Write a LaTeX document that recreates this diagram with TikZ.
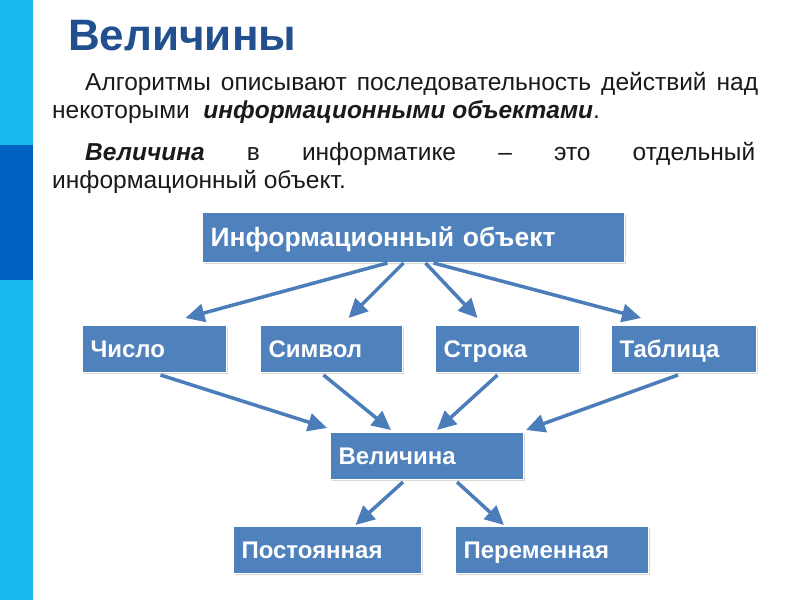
\documentclass[tikz,border=0pt]{standalone}
\usepackage{fontspec}
\setmainfont{Liberation Sans}
\usetikzlibrary{arrows.meta,shadows}
\definecolor{barlight}{HTML}{17B8EC}
\definecolor{bardark}{HTML}{0063C1}
\definecolor{titleblue}{HTML}{22508E}
\definecolor{boxblue}{HTML}{4F81BD}
\definecolor{arrowblue}{HTML}{4A7DBA}
\definecolor{textgray}{HTML}{1A1A1A}
\tikzset{
	box/.style={fill=boxblue,draw=white,line width=1pt,
		drop shadow={shadow xshift=1.5pt,shadow yshift=-1.5pt,opacity=0.3},
		text=white,font=\bfseries\fontsize{24}{26}\selectfont,
		text height=18pt,text depth=2pt,
		inner xsep=8pt,inner ysep=0pt,align=left,anchor=north west},
	line/.style={anchor=base west,inner sep=0pt,text=textgray,font=\fontsize{24.5}{28}\selectfont},
	link/.style={arrowblue,line width=3.5pt,-{Triangle[length=19pt,width=18pt]}}
}
\begin{document}
\begin{tikzpicture}[x=1pt,y=-1pt]
	\useasboundingbox (0,0) rectangle (800,600);
	\fill[white] (0,0) rectangle (800,600);
	\fill[barlight] (0,0) rectangle (33,600);
	\fill[bardark] (0,145) rectangle (33,280);
	\node[anchor=base west,inner sep=0pt,text=titleblue,font=\bfseries\fontsize{44}{48}\selectfont] (title) at (68,50) {Величины};
	\node[line] (algoA) at (85,90) {\makebox[673pt][s]{Алгоритмы описывают последовательность действий над}};
	\node[line] (algoB) at (52,118) {некоторыми \ \textbf{\textit{информационными объектами}}.};
	\node[line] (defA) at (85,160) {\makebox[670pt][s]{\textbf{\textit{Величина}} в информатике – это отдельный}};
	\node[line] (defB) at (52,188) {информационный объект.};
	\node[box,text width=406pt,minimum height=50pt,text height=20pt,font=\bfseries\fontsize{26.5}{28}\selectfont] (info) at (202,212) {Информационный объект};
	\node[box,text width=128pt,minimum height=47pt] (chislo) at (82,325) {Число};
	\node[box,text width=126pt,minimum height=47pt] (simvol) at (260,325) {Символ};
	\node[box,text width=128pt,minimum height=47pt] (stroka) at (435,325) {Строка};
	\node[box,text width=129pt,minimum height=47pt] (tabl) at (611,325) {Таблица};
	\node[box,text width=177pt,minimum height=47pt] (vel) at (330,432) {Величина};
	\node[box,text width=172pt,minimum height=47pt] (post) at (233,526) {Постоянная};
	\node[box,text width=177pt,minimum height=47pt] (perem) at (455,526) {Переменная};
	\draw[link] ([xshift=-26pt]info.south) -- ([xshift=31pt,yshift=7pt]chislo.north);
	\draw[link] ([xshift=-10pt]info.south) -- ([xshift=17pt,yshift=7pt]simvol.north);
	\draw[link] ([xshift=12pt]info.south) -- ([xshift=-30pt,yshift=7pt]stroka.north);
	\draw[link] ([xshift=20pt]info.south) -- ([xshift=-43pt,yshift=7pt]tabl.north);
	\draw[link] ([xshift=6pt,yshift=-2pt]chislo.south) -- ([xshift=-3pt,yshift=4pt]vel.north west);
	\draw[link] ([xshift=-8pt,yshift=-2pt]simvol.south) -- ([xshift=-36pt,yshift=2pt]vel.north);
	\draw[link] ([xshift=-10pt,yshift=-2pt]stroka.south) -- ([xshift=10pt,yshift=2pt]vel.north);
	\draw[link] ([xshift=-6pt,yshift=-2pt]tabl.south) -- ([xshift=2pt,yshift=2pt]vel.north east);
	\draw[link] ([xshift=-24pt,yshift=-2pt]vel.south) -- ([xshift=28pt,yshift=1pt]post.north);
	\draw[link] ([xshift=30pt,yshift=-2pt]vel.south) -- ([xshift=-48pt,yshift=1pt]perem.north);
\end{tikzpicture}
\end{document}
